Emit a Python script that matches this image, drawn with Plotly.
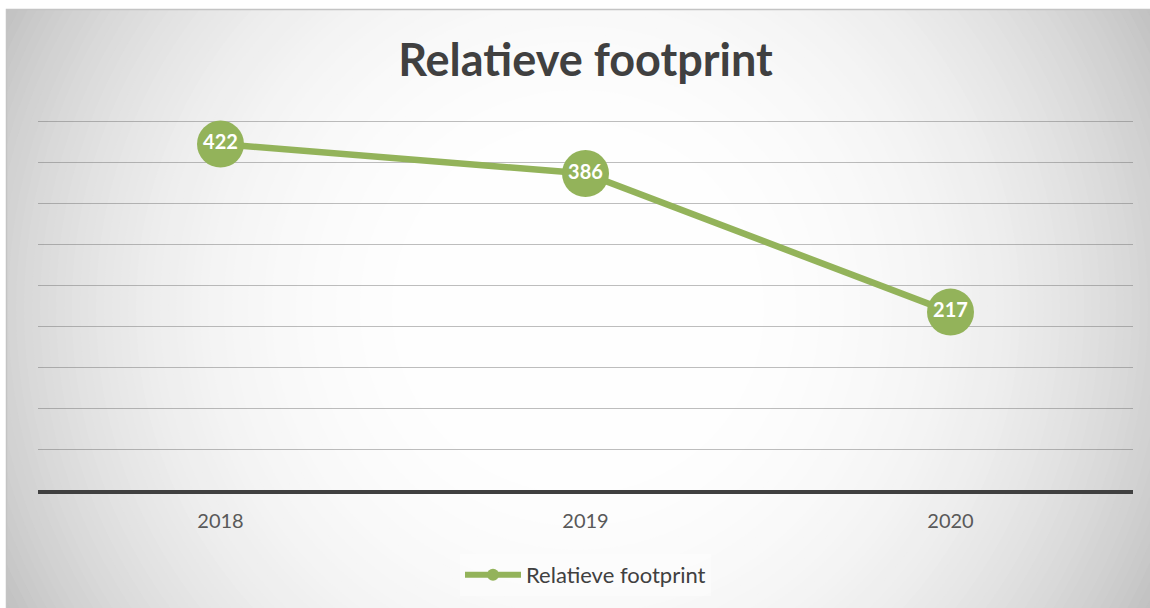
import plotly.graph_objects as go

# ---- data ----
years = ["2018", "2019", "2020"]
footprint = [422, 386, 217]
series_name = "Relatieve footprint"
title_text = "Relatieve footprint"
y_max = 455
y_step = 50

# ---- layout geometry (screen pixels; body margin removed below) ----
W, H = 1150, 608
PLOT_TOP_450 = 121      # pixel row of the 450 gridline
AXIS_Y = 490
L, R = 38, 17
B = H - AXIS_Y
T = int(round(PLOT_TOP_450 - (y_max - 450) * (AXIS_Y - PLOT_TOP_450) / 450))
PW, PH = W - L - R, H - T - B

GREEN = "#93B35A"
FONT = "Lato"

def px_to_paper_x(px):
    return (px - L) / PW

def px_to_paper_y(py):
    return (H - B - py) / PH

# background: radial light-gray gradient built from nested ellipses
shapes = []
cx, cy = 578, 308
def shade(r):
    v = 255 - 62 * (min(r, 650) / 650) ** 3
    v = int(round(max(193, min(255, v))))
    return f"rgb({v},{v},{v})"

shapes.append(dict(type="rect", xref="paper", yref="paper", layer="below",
                   x0=px_to_paper_x(6), x1=px_to_paper_x(1160),
                   y0=px_to_paper_y(620), y1=px_to_paper_y(9),
                   fillcolor=shade(650), line=dict(width=0)))
r = 650
while r >= 180:
    shapes.append(dict(type="circle", xref="paper", yref="paper", layer="below",
                       x0=px_to_paper_x(cx - r), x1=px_to_paper_x(cx + r),
                       y0=px_to_paper_y(cy + r), y1=px_to_paper_y(cy - r),
                       fillcolor=shade(r), line=dict(width=0)))
    r -= 8
# white strips above and left of the chart frame
shapes.append(dict(type="rect", xref="paper", yref="paper", layer="below",
                   x0=px_to_paper_x(-50), x1=px_to_paper_x(1200),
                   y0=px_to_paper_y(9), y1=px_to_paper_y(-50),
                   fillcolor="white", line=dict(width=0)))
shapes.append(dict(type="rect", xref="paper", yref="paper", layer="below",
                   x0=px_to_paper_x(-50), x1=px_to_paper_x(6),
                   y0=px_to_paper_y(650), y1=px_to_paper_y(-50),
                   fillcolor="white", line=dict(width=0)))
# frame border
shapes.append(dict(type="rect", xref="paper", yref="paper", layer="below",
                   x0=px_to_paper_x(6.5), x1=px_to_paper_x(1160),
                   y0=px_to_paper_y(620), y1=px_to_paper_y(9.5),
                   fillcolor="rgba(0,0,0,0)", line=dict(width=1.5, color="#c4c4c4")))

fig = go.Figure()
fig.add_trace(go.Scatter(
    x=years, y=footprint, mode="lines+markers+text",
    text=[str(v) for v in footprint], textposition="middle center",
    textfont=dict(family=FONT, size=20, color="white", weight="bold"),
    line=dict(color=GREEN, width=6.5),
    marker=dict(size=47, color=GREEN),
    showlegend=False, hoverinfo="x+y",
))
fig.add_trace(go.Scatter(
    x=[None], y=[None], mode="lines+markers", name=series_name,
    line=dict(color=GREEN, width=6), marker=dict(size=12, color=GREEN),
    showlegend=True,
))

fig.update_layout(
    width=W, height=H,
    margin=dict(l=L, r=R, t=T, b=B),
    paper_bgcolor="white", plot_bgcolor="rgba(0,0,0,0)",
    shapes=shapes,
    title=dict(text=title_text, x=0.5, xref="paper", y=1 - 60 / H, yref="container",
               xanchor="center", yanchor="middle",
               font=dict(family=FONT, size=45, color="#404040", weight="bold")),
    legend=dict(orientation="h", x=0.5, xanchor="center", xref="paper",
                y=1 - 575 / H, yref="container", yanchor="middle",
                bgcolor="rgba(255,255,255,0.4)",
                font=dict(family=FONT, size=22, color="#404040"),
                itemwidth=56),
    xaxis=dict(type="category", range=[-0.5, 2.5], showgrid=False,
               showline=True, linecolor="#404040", linewidth=3.5,
               ticks="outside", ticklen=10, tickcolor="rgba(0,0,0,0)",
               tickfont=dict(family=FONT, size=20, color="#595959"),
               zeroline=False),
    yaxis=dict(range=[0, y_max], dtick=y_step, showgrid=True,
               gridcolor="rgba(100,100,100,0.42)", gridwidth=1.2,
               showticklabels=False, zeroline=False, showline=False, ticks=""),
    hovermode="closest",
)

fig.write_html(
    "out.html",
    config={"displayModeBar": False},
    post_script="document.body.style.margin='0';document.body.style.overflow='hidden';",
)
